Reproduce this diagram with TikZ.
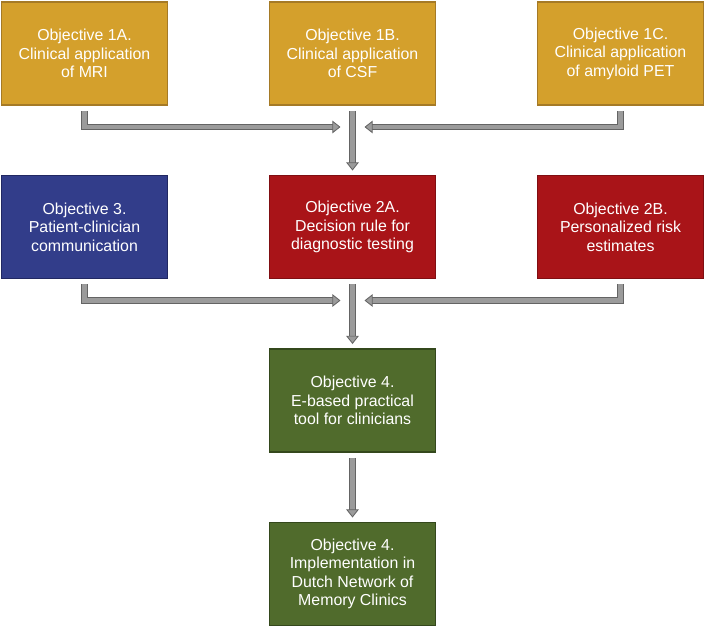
\documentclass[tikz,border=0pt]{standalone}
\usepackage{fontspec}
\setmainfont{Liberation Sans}
\usetikzlibrary{arrows.meta, positioning}

\definecolor{goldfill}{RGB}{212,160,44}
\definecolor{golddraw}{RGB}{165,122,38}
\definecolor{redfill}{RGB}{169,20,24}
\definecolor{reddraw}{RGB}{128,14,18}
\definecolor{bluefill}{RGB}{50,61,138}
\definecolor{bluedraw}{RGB}{33,40,98}
\definecolor{greenfill}{RGB}{80,107,44}
\definecolor{greendraw}{RGB}{52,72,28}
\definecolor{arrowfill}{RGB}{155,155,155}
\definecolor{arrowline}{RGB}{100,100,100}

\begin{document}
\begin{tikzpicture}[
        on grid, node distance = 4.3375cm and 6.7cm,
        every node/.style = {text = white, align = center, font = \fontsize{11.3}{13.2}\selectfont},
        objbox/.style = {minimum width = 4.15cm, minimum height = 2.575cm, line width = 1.4pt, inner sep = 0pt},
        objgold/.style = {objbox, draw = golddraw, fill = goldfill},
        objred/.style = {objbox, draw = reddraw, fill = redfill},
        objblue/.style = {objbox, draw = bluedraw, fill = bluefill},
        objgreen/.style = {objbox, draw = greendraw, fill = greenfill},
        flow/.style = {draw = arrowline, double = arrowfill, double distance = 3.3pt, line width = 0.6pt,
            -{Triangle[width = 9pt, length = 5.8pt, fill = arrowfill]}}
    ]
      \path[use as bounding box] (0,0) rectangle (17.675,-15.7);

      \node[objgold] (obj1b) at (8.8125,-1.3375) {Objective 1B.\\Clinical application\\of CSF};
      \node[objgold] (obj1a) [left = of obj1b] {Objective 1A.\\Clinical application\\of MRI};
      \node[objgold] (obj1c) [right = of obj1b] {Objective 1C.\\Clinical application\\of amyloid PET};

      \node[objred] (obj2a) [below = of obj1b] {Objective 2A.\\Decision rule for\\diagnostic testing};
      \node[objblue] (obj3) [left = of obj2a] {Objective 3.\\Patient-clinician\\communication};
      \node[objred] (obj2b) [right = of obj2a] {Objective 2B.\\Personalized risk\\estimates};

      \node[objgreen] (obj4tool) [below = of obj2a] {Objective 4.\\E-based practical\\tool for clinicians};
      \node[objgreen] (obj4impl) [below = of obj4tool] {Objective 4.\\Implementation in\\Dutch Network of\\Memory Clinics};

      \coordinate (join1) at ([yshift = -0.525cm]obj1b.south);
      \coordinate (join2) at ([yshift = -0.525cm]obj2a.south);

      \draw[flow, shorten <= 0.125cm, shorten >= 0.3cm] (obj1a) |- (join1);
      \draw[flow, shorten <= 0.125cm, shorten >= 0.3cm] (obj1c) |- (join1);
      \draw[flow, shorten <= 0.125cm, shorten >= 0.1cm] (obj1b) -- (obj2a);

      \draw[flow, shorten <= 0.125cm, shorten >= 0.3cm] (obj3) |- (join2);
      \draw[flow, shorten <= 0.125cm, shorten >= 0.3cm] (obj2b) |- (join2);
      \draw[flow, shorten <= 0.125cm, shorten >= 0.1cm] (obj2a) -- (obj4tool);

      \draw[flow, shorten <= 0.125cm, shorten >= 0.1cm] (obj4tool) -- (obj4impl);
    \end{tikzpicture}
\end{document}
